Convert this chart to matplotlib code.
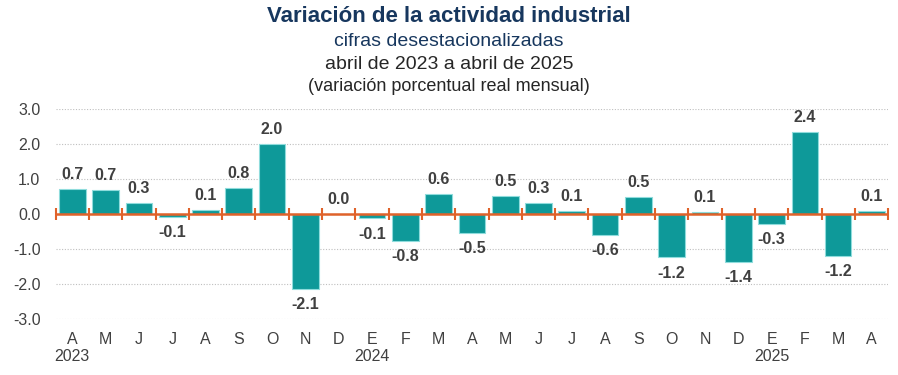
import matplotlib
matplotlib.use("Agg")
import matplotlib.pyplot as plt
import numpy as np
from matplotlib.transforms import blended_transform_factory

# data
months = ["A", "M", "J", "J", "A", "S", "O", "N", "D",
          "E", "F", "M", "A", "M", "J", "J", "A", "S", "O", "N", "D",
          "E", "F", "M", "A"]
values = [0.72, 0.68, 0.33, -0.07, 0.12, 0.76, 2.01, -2.14, 0.0,
          -0.12, -0.77, 0.57, -0.53, 0.53, 0.33, 0.09, -0.60, 0.48, -1.23, 0.06, -1.36,
          -0.27, 2.36, -1.20, 0.08]
years = ["2023", "2024", "2025"]
year_pos = [0, 9, 21]

plt.rcParams['font.family'] = ['Liberation Sans', 'DejaVu Sans']

teal = "#0E9999"
orange = "#E0622A"
txt = "#404040"

fig = plt.figure(figsize=(8.98, 3.75), dpi=100)
ax = fig.add_axes([0.062, 0.149, 0.927, 0.56])

x = np.arange(len(values))
ax.bar(x, values, width=0.8, color=teal, edgecolor="#8FDCDC", linewidth=0.8, zorder=2)

ax.set_ylim(-3.0, 3.0)
ax.set_xlim(-0.5, len(values) - 0.5)
for gy in [-3, -2, -1, 1, 2, 3]:
    ax.axhline(gy, color="#BFBFBF", lw=0.8, ls=(0, (1, 1.5)), zorder=0)

# zero line with boundary ticks
ax.axhline(0, color=orange, lw=1.8, zorder=3)
bounds = np.arange(len(values) + 1) - 0.5
ax.plot(bounds, np.zeros_like(bounds), ls="none", marker="|", ms=8, mew=1.5,
        color=orange, zorder=3, clip_on=False)

# data labels
for xi, v in zip(x, values):
    lab = f"{v:.1f}"
    if v >= 0:
        ax.annotate(lab, (xi, v), xytext=(0, 5), textcoords="offset points",
                    ha="center", va="bottom", fontsize=11.5, fontweight="bold", color=txt)
    else:
        ax.annotate(lab, (xi, v), xytext=(0, -6), textcoords="offset points",
                    ha="center", va="top", fontsize=11.5, fontweight="bold", color=txt)

ax.set_yticks([-3, -2, -1, 0, 1, 2, 3])
ax.set_yticklabels([f"{t:.1f}" for t in [-3, -2, -1, 0, 1, 2, 3]], fontsize=11.5, color=txt)
ax.set_xticks(x)
ax.set_xticklabels(months, fontsize=11.5, color=txt)
ax.tick_params(axis="both", length=0)
ax.tick_params(axis="x", pad=9)
ax.tick_params(axis="y", pad=11)
for s in ax.spines.values():
    s.set_visible(False)

trans = blended_transform_factory(ax.transData, ax.transAxes)
for yr, p in zip(years, year_pos):
    ax.text(p, -0.14, yr, transform=trans, ha="center", va="top", fontsize=11.5, color=txt)

# titles
fig.text(0.5, 0.985, "Variación de la actividad industrial", ha="center", va="top",
         fontsize=16, fontweight="bold", color="#17375E")
fig.text(0.5, 0.912, "cifras desestacionalizadas", ha="center", va="top",
         fontsize=14, color="#17375E")
fig.text(0.5, 0.85, "abril de 2023 a abril de 2025", ha="center", va="top",
         fontsize=14, color="#262626")
fig.text(0.5, 0.793, "(variación porcentual real mensual)", ha="center", va="top",
         fontsize=13, color="#262626")

fig.savefig("out.png", dpi=100)
